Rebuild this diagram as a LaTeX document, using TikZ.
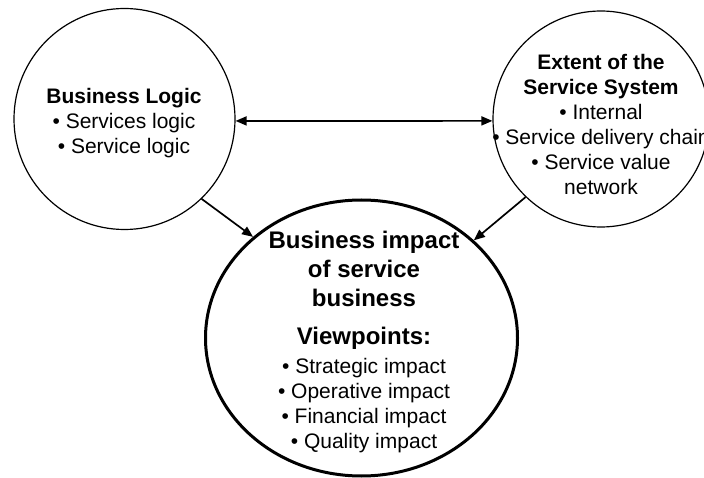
\documentclass[tikz,border=0pt]{standalone}
\usepackage{fontspec}
\setmainfont{Liberation Sans}
\usetikzlibrary{shapes.geometric,arrows.meta}
\begin{document}
\begin{tikzpicture}[x=1pt,y=-1pt,
  circ/.style={circle,draw,line width=1.2pt,minimum size=221pt,inner sep=0pt},
  txt/.style={align=center,font=\fontsize{21}{25}\selectfont,inner sep=0pt},
  ttl/.style={align=center,font=\fontsize{24}{29}\selectfont\bfseries,inner sep=0pt},
  tip/.tip={Triangle[length=11pt,width=9pt]},
  arr/.style={line width=1.7pt,-tip},
  ]
\useasboundingbox (0,0) rectangle (704,478);
\clip (0,0) rectangle (704,478);
\node[circ] (bl) at (124.5,119) {};
\node[circ, minimum size=216pt] (ext) at (601,119) {};
\node[ellipse,draw,line width=3pt,minimum width=312pt,minimum height=276pt,inner sep=0pt] (imp) at (361.5,338) {};
\node[txt] (bltext) at (124,123) {\textbf{Business Logic}\\\textbullet\ Services logic\\\textbullet\ Service logic};
\node[txt] (exttext) at (601,124.5) {\textbf{Extent of the}\\\textbf{Service System}\\\textbullet\ Internal\\\textbullet\ Service delivery chain\\\textbullet\ Service value\\network};
\node[ttl] (imptitle) at (364,269) {Business impact\\of service\\business};
\node[txt] (impview) at (364,390) {{\fontsize{24}{29}\selectfont\bfseries Viewpoints:}\\[4pt]\textbullet\ Strategic impact\\\textbullet\ Operative impact\\\textbullet\ Financial impact\\\textbullet\ Quality impact};
\draw[line width=1.7pt,tip-tip] (bl.-1) -- (ext.181);
\draw[arr] (bl.-46) -- (imp.137);
\draw[arr] (ext.226) -- (imp.41);
\end{tikzpicture}
\end{document}
